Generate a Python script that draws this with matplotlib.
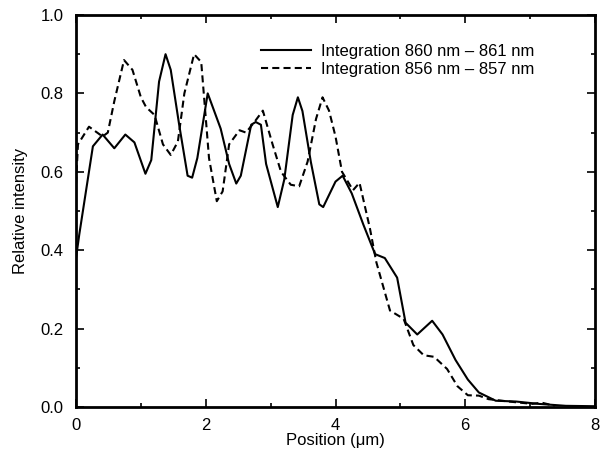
import matplotlib.pyplot as plt
from matplotlib.ticker import MultipleLocator

plt.rcParams['font.family'] = ['Liberation Sans', 'DejaVu Sans']

# 데이터
x_860 = [0.0, 0.05, 0.26, 0.41, 0.59, 0.76, 0.90, 1.07, 1.16, 1.28, 1.38, 1.46, 1.59, 1.72, 1.79,
         1.87, 2.03, 2.23, 2.36, 2.47, 2.54, 2.70, 2.77, 2.85, 2.93, 3.11, 3.21, 3.34, 3.42, 3.49,
         3.62, 3.75, 3.81, 4.0, 4.11, 4.25, 4.43, 4.61, 4.76, 4.95, 5.08, 5.26, 5.49, 5.65, 5.85,
         6.04, 6.21, 6.47, 6.78, 7.13, 7.55, 8.0]
y_860 = [0.38, 0.44, 0.665, 0.695, 0.66, 0.695, 0.675, 0.595, 0.63, 0.83, 0.90, 0.86, 0.72, 0.59, 0.585,
         0.635, 0.80, 0.71, 0.62, 0.57, 0.59, 0.72, 0.727, 0.72, 0.62, 0.51, 0.58, 0.745, 0.79, 0.755,
         0.625, 0.517, 0.51, 0.575, 0.59, 0.545, 0.465, 0.39, 0.38, 0.33, 0.215, 0.185, 0.22, 0.185, 0.12,
         0.07, 0.037, 0.016, 0.014, 0.008, 0.003, 0.002]

x_856 = [0.0, 0.03, 0.2, 0.41, 0.49, 0.59, 0.74, 0.87, 1.0, 1.08, 1.21, 1.34, 1.46, 1.57, 1.67,
         1.82, 1.93, 2.05, 2.17, 2.26, 2.36, 2.52, 2.62, 2.75, 2.88, 3.03, 3.16, 3.31, 3.44, 3.57,
         3.70, 3.80, 3.90, 4.0, 4.1, 4.27, 4.37, 4.53, 4.63, 4.84, 5.05, 5.2, 5.36, 5.52, 5.72,
         5.88, 6.04, 6.21, 6.36, 6.67, 7.03, 7.18, 7.38]
y_856 = [0.57, 0.67, 0.715, 0.69, 0.70, 0.78, 0.885, 0.86, 0.79, 0.765, 0.745, 0.67, 0.643, 0.677, 0.80,
         0.90, 0.88, 0.635, 0.525, 0.55, 0.67, 0.706, 0.70, 0.727, 0.756, 0.67, 0.60, 0.567, 0.563, 0.626,
         0.735, 0.79, 0.756, 0.69, 0.60, 0.553, 0.572, 0.456, 0.369, 0.246, 0.225, 0.158, 0.132, 0.128, 0.097,
         0.053, 0.03, 0.029, 0.02, 0.014, 0.008, 0.011, 0.003]

fig = plt.figure(figsize=(6.01, 4.57), dpi=100)
ax = fig.add_axes([0.1265, 0.1094, 0.8635, 0.8578])

ax.plot(x_860, y_860, color='black', lw=1.5, label='Integration 860 nm \u2013 861 nm')
ax.plot(x_856, y_856, color='black', lw=1.5, dashes=(3.4, 2.0), label='Integration 856 nm \u2013 857 nm')

ax.set_xlim(0, 8)
ax.set_ylim(0, 1.0)
ax.xaxis.set_major_locator(MultipleLocator(2))
ax.xaxis.set_minor_locator(MultipleLocator(1))
ax.yaxis.set_major_locator(MultipleLocator(0.2))
ax.yaxis.set_minor_locator(MultipleLocator(0.1))
ax.yaxis.set_major_formatter(plt.FormatStrFormatter('%.1f'))
ax.tick_params(which='both', direction='in', top=True, right=True, labelsize=12, width=1.2)
ax.tick_params(which='major', length=6)
ax.tick_params(which='minor', length=3)
ax.tick_params(axis='x', which='major', pad=8)
ax.tick_params(axis='y', which='major', pad=9)
for s in ax.spines.values():
    s.set_linewidth(2.0)

ax.set_xlabel('Position (\u03bcm)', fontsize=12, labelpad=0)
ax.set_ylabel('Relative intensity', fontsize=12, labelpad=9)

leg = ax.legend(loc='upper right', bbox_to_anchor=(0.897, 0.944), frameon=False, fontsize=12,
                handlelength=3.0, handletextpad=0.6, labelspacing=0.2, borderaxespad=0)

fig.savefig('out.png', dpi=100)
